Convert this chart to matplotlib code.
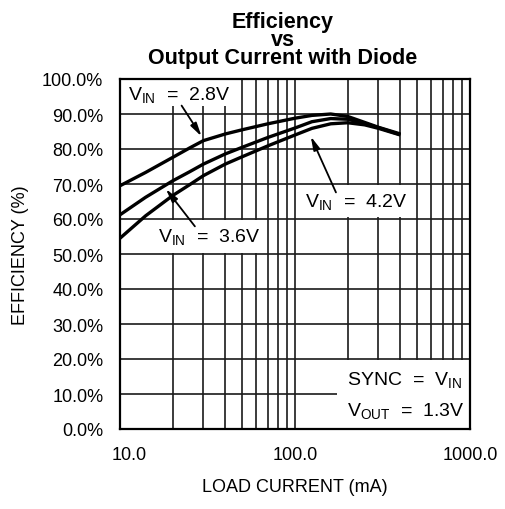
import matplotlib
matplotlib.use("Agg")
import matplotlib.pyplot as plt
from matplotlib.patches import Rectangle
from matplotlib.ticker import FixedLocator, NullFormatter
from matplotlib.transforms import ScaledTranslation

plt.rcParams['font.family'] = ['Liberation Sans', 'DejaVu Sans']
plt.rcParams['mathtext.fontset'] = 'custom'
plt.rcParams['mathtext.rm'] = 'Liberation Sans'

# ---- data ----
current_ma = [10, 14, 20, 25, 30, 40, 50, 70, 100, 125, 160, 200, 250, 300, 400]
eff_vin_28 = [69.5, 73.3, 77.6, 80.3, 82.4, 84.3, 85.5, 87.2, 88.8, 89.6, 90.0, 89.3, 87.6, 86.2, 84.3]
eff_vin_36 = [61.2, 66.2, 70.9, 73.5, 75.7, 78.6, 80.5, 83.3, 86.0, 87.8, 88.7, 88.5, 87.3, 86.1, 84.1]
eff_vin_42 = [54.5, 60.9, 66.7, 69.8, 72.4, 75.7, 77.8, 80.9, 84.0, 85.9, 87.2, 87.5, 86.9, 85.9, 84.0]

x_major = [10, 100, 1000]
x_major_labels = ["10.0", "100.0", "1000.0"]
x_minor = [20, 30, 40, 50, 60, 70, 80, 90, 200, 300, 400, 500, 600, 700, 800, 900]
y_ticks = [0, 10, 20, 30, 40, 50, 60, 70, 80, 90, 100]
y_labels = ["0.0%", "10.0%", "20.0%", "30.0%", "40.0%", "50.0%", "60.0%",
            "70.0%", "80.0%", "90.0%", "100.0%"]

title = "Efficiency\nvs\nOutput Current with Diode"
xlabel = "LOAD CURRENT (mA)"
ylabel = "EFFICIENCY (%)"

# ---- figure ----
fig = plt.figure(figsize=(5.05, 5.10), dpi=100)
ax = fig.add_axes([120/505, 80/510, 350/505, 350/510])

ax.set_xscale('log')
ax.set_xlim(10, 1000)
ax.set_ylim(0, 100)
ax.xaxis.set_major_locator(FixedLocator(x_major))
ax.xaxis.set_minor_locator(FixedLocator(x_minor))
ax.xaxis.set_minor_formatter(NullFormatter())
ax.set_xticklabels(x_major_labels)
ax.set_yticks(y_ticks)
ax.set_yticklabels(y_labels)
ax.tick_params(which='both', length=0, labelsize=13, pad=12)
first = ax.get_xticklabels()[0]
first.set_transform(first.get_transform() + ScaledTranslation(0.09, 0, fig.dpi_scale_trans))

ax.set_axisbelow(True)
ax.grid(which='both', axis='both', color='#1a1a1a', linewidth=1.2)
for s in ax.spines.values():
    s.set_linewidth(1.6)
    s.set_color('black')
    s.set_zorder(5)

for eff in (eff_vin_28, eff_vin_36, eff_vin_42):
    ax.plot(current_ma, eff, color='black', linewidth=2.4, zorder=3,
            solid_capstyle='butt', solid_joinstyle='round')

# white label boxes (axes fraction)
boxes = [(0.0, 0.923, 0.32, 0.077),
         (0.086, 0.503, 0.32, 0.094),
         (0.505, 0.606, 0.335, 0.091),
         (0.62, 0.0, 0.38, 0.197)]
for bx, by, bw, bh in boxes:
    ax.add_patch(Rectangle((bx, by), bw, bh, transform=ax.transAxes,
                           facecolor='white', edgecolor='none', zorder=1.5))

lab_kw = dict(transform=ax.transAxes, fontsize=14, va='baseline', ha='left', zorder=6)
ax.text(0.023, 0.943, r'$\mathregular{V_{IN}}$  =  2.8V', **lab_kw)
ax.text(0.109, 0.538, r'$\mathregular{V_{IN}}$  =  3.6V', **lab_kw)
ax.text(0.529, 0.638, r'$\mathregular{V_{IN}}$  =  4.2V', **lab_kw)
ax.text(0.648, 0.129, r'SYNC  =  $\mathregular{V_{IN}}$', **lab_kw)
ax.text(0.648, 0.041, r'$\mathregular{V_{OUT}}$  =  1.3V', **lab_kw)

arrow_kw = dict(arrowstyle='-|>,head_length=0.8,head_width=0.2', lw=1.3, color='black',
                shrinkA=0, shrinkB=0)
ax.annotate('', xy=(0.233, 0.836), xytext=(0.176, 0.924), xycoords='axes fraction',
            textcoords='axes fraction', arrowprops=arrow_kw, zorder=6)
ax.annotate('', xy=(0.131, 0.686), xytext=(0.214, 0.579), xycoords='axes fraction',
            textcoords='axes fraction', arrowprops=arrow_kw, zorder=6)
ax.annotate('', xy=(0.545, 0.836), xytext=(0.617, 0.676), xycoords='axes fraction',
            textcoords='axes fraction', arrowprops=arrow_kw, zorder=6)

fig.text(283/505, 1 - 64/510, title, ha='center', va='baseline', fontsize=15.5,
         fontweight='bold', linespacing=0.8)
fig.text(295/505, 1 - 488/510, xlabel, ha='center', va='center', fontsize=13)
fig.text(21/505, 0.5, ylabel, ha='center', va='center', fontsize=13, rotation=90)

fig.savefig('out.png', dpi=100)
